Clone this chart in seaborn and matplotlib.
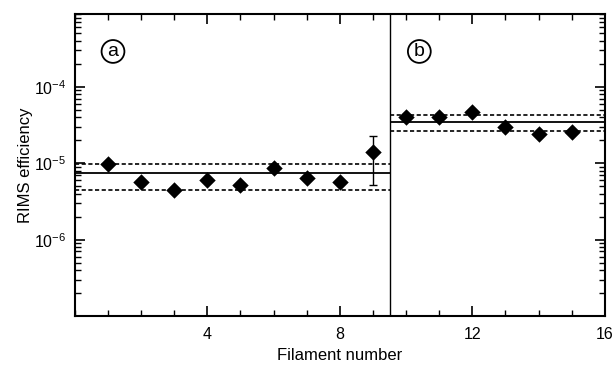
import matplotlib
matplotlib.use("Agg")
import matplotlib.pyplot as plt
import seaborn as sns
import pandas as pd
import numpy as np
from matplotlib.ticker import LogLocator, FixedLocator, NullFormatter

sns.set_theme(style="ticks")
plt.rcParams['font.family'] = ['Liberation Sans', 'DejaVu Sans']
plt.rcParams['text.color'] = 'black'
plt.rcParams['axes.labelcolor'] = 'black'
plt.rcParams['xtick.color'] = 'black'
plt.rcParams['ytick.color'] = 'black'

# Data
filament_a = [1, 2, 3, 4, 5, 6, 7, 8, 9]
eff_a = [9.8e-6, 5.7e-6, 4.5e-6, 6.0e-6, 5.2e-6, 8.6e-6, 6.5e-6, 5.6e-6, 1.4e-5]
filament_b = [10, 11, 12, 13, 14, 15]
eff_b = [4.0e-5, 4.0e-5, 4.7e-5, 3.0e-5, 2.4e-5, 2.55e-5]
err_x = [9]
err_y = [1.4e-5]
err_lo = [5.2e-6]
err_hi = [2.3e-5]
mean_a, lo_a, hi_a = 7.45e-6, 4.45e-6, 9.9e-6
mean_b, lo_b, hi_b = 3.47e-5, 2.63e-5, 4.33e-5
divider = 9.5
xticks = [4, 8, 12, 16]

df = pd.DataFrame({"x": filament_a + filament_b, "y": eff_a + eff_b})

fig = plt.figure(figsize=(6.14, 3.65), dpi=100)
ax = fig.add_axes([0.122, 0.134, 0.863, 0.828])

# error bar
ax.errorbar(err_x, err_y,
            yerr=[[err_y[0] - err_lo[0]], [err_hi[0] - err_y[0]]],
            fmt='none', ecolor='black', elinewidth=1, capsize=3, capthick=1, zorder=2)

sns.scatterplot(data=df, x="x", y="y", marker="D", s=70, color="black",
                edgecolor="black", linewidth=0, ax=ax, zorder=3)

# mean and bounds
ax.hlines([mean_a], 0, divider, colors='black', linewidth=1.3)
ax.hlines([lo_a, hi_a], 0, divider, colors='black', linewidth=1.2, linestyles=(0, (2.5, 1.5)))
ax.hlines([mean_b], divider, 16, colors='black', linewidth=1.3)
ax.hlines([lo_b, hi_b], divider, 16, colors='black', linewidth=1.2, linestyles=(0, (2.5, 1.5)))
ax.axvline(divider, color='black', linewidth=1.0)

ax.set_yscale('log')
ax.set_xlim(0, 16)
ax.set_ylim(1e-7, 9e-4)
ax.set_xticks(xticks)
ax.set_xticklabels([str(t) for t in xticks])
ax.xaxis.set_minor_locator(FixedLocator(range(0, 17)))
ax.yaxis.set_minor_locator(LogLocator(base=10, subs=np.arange(2, 10), numticks=20))
ax.yaxis.set_minor_formatter(NullFormatter())
ax.set_yticks([1e-6, 1e-5, 1e-4])
ax.set_yticklabels([r'10$^{\mathdefault{-6}}$', r'10$^{\mathdefault{-5}}$', r'10$^{\mathdefault{-4}}$'])

ax.tick_params(which='both', direction='in', top=True, right=True, labelsize=11.5,
               color='black', labelcolor='black')
ax.tick_params(axis='x', which='major', pad=8)
ax.tick_params(axis='y', which='major', pad=6)
ax.tick_params(which='major', length=7, width=1.2)
ax.tick_params(which='minor', length=4, width=1.0)
for s in ax.spines.values():
    s.set_linewidth(1.5)
    s.set_color('black')

ax.set_xlabel("Filament number", fontsize=12, labelpad=4, color='black')
ax.set_ylabel("RIMS efficiency", fontsize=12, labelpad=1, color='black')

ax.text(1.15, 2.9e-4, "a", fontsize=14, ha='center', va='center', color='black',
        bbox=dict(boxstyle='circle,pad=0.15', fc='white', ec='black', lw=1.3))
ax.text(10.4, 2.9e-4, "b", fontsize=14, ha='center', va='center', color='black',
        bbox=dict(boxstyle='circle,pad=0.15', fc='white', ec='black', lw=1.3))

fig.savefig("out.png", dpi=100)
